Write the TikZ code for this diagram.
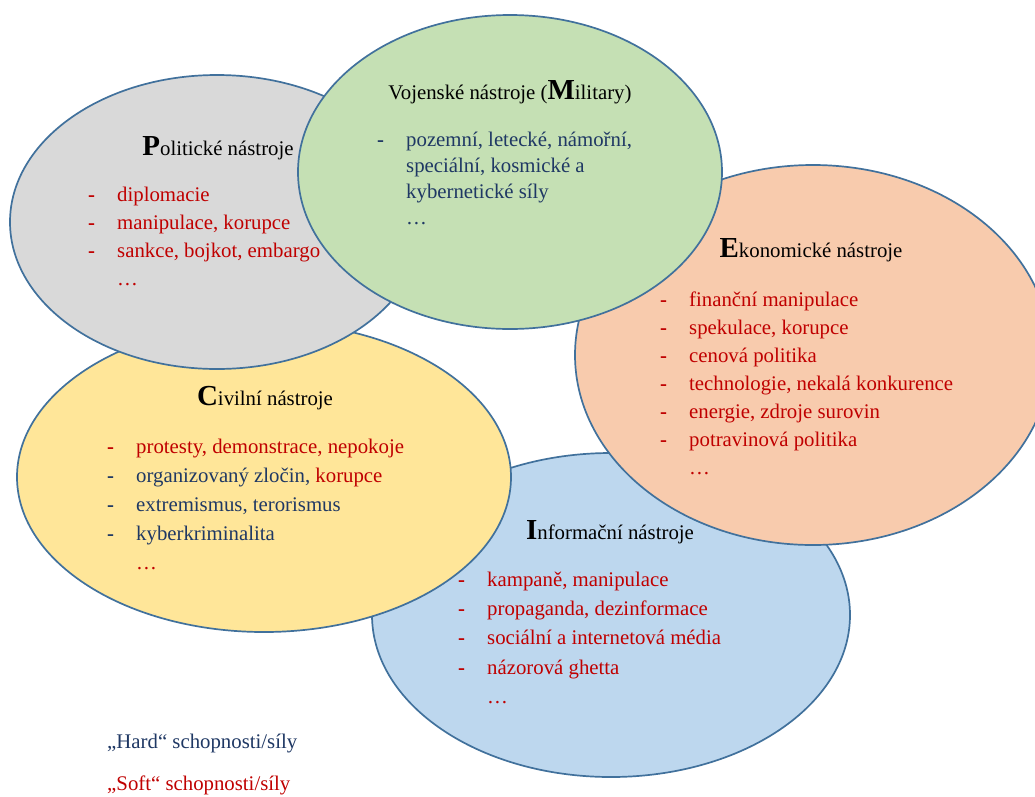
\documentclass[tikz,border=0pt]{standalone}
\usepackage{fontspec}
\setmainfont{Liberation Serif}
\usetikzlibrary{shapes.geometric}

\definecolor{rimBlue}{HTML}{41719C}
\definecolor{polFill}{HTML}{D9D9D9}
\definecolor{milFill}{HTML}{C5E0B4}
\definecolor{ecoFill}{HTML}{F8CBAD}
\definecolor{civFill}{HTML}{FFE699}
\definecolor{infFill}{HTML}{BDD7EE}
\definecolor{softRed}{HTML}{C00000}
\definecolor{hardNavy}{HTML}{1F3864}

\newcommand{\bigini}[1]{{\fontsize{29}{29}\selectfont\bfseries #1}}
\newcommand{\dsh}{\makebox[29pt][l]{\textbf{-}}}
\newcommand{\gap}{\hspace*{29pt}}

\begin{document}
\begin{tikzpicture}[
    x=1pt, y=-1pt,
    tool/.style={
        ellipse,
        draw=rimBlue,
        line width=1.7pt,
        inner sep=0pt
    },
    head/.style={
        anchor=base,
        inner sep=0pt,
        font=\fontsize{20.8}{28}\selectfont
    },
    list/.style={
        anchor=north west,
        align=left,
        inner sep=0pt
    }
]
\fill[white] (0,0) rectangle (1035,796);
\useasboundingbox (0,0) rectangle (1035,796);

% tool groups, back to front
\node[tool, fill=infFill, minimum width=478pt, minimum height=324pt] (inf) at (611,615) {};
\node[tool, fill=civFill, minimum width=494pt, minimum height=310pt] (civ) at (264,477) {};
\node[tool, fill=ecoFill, minimum width=476pt, minimum height=380pt] (eco) at (813,355) {};
\node[tool, fill=polFill, minimum width=414pt, minimum height=294pt] (pol) at (217,222) {};
\node[tool, fill=milFill, minimum width=424pt, minimum height=314pt] (mil) at (510,172) {};

% headings
\node[head] (polHead) at (218,155) {\bigini{P}olitické nástroje};
\node[head] (milHead) at (510,99) {Vojenské nástroje (\bigini{M}ilitary)};
\node[head] (ecoHead) at (811,257) {\bigini{E}konomické nástroje};
\node[head] (civHead) at (265,405) {\bigini{C}ivilní nástroje};
\node[head] (infHead) at (610,539) {\bigini{I}nformační nástroje};

% item lists
\node[list, text=softRed, font=\fontsize{20.8}{28}\selectfont] (polList) at (88,181.4)
    {\strut\dsh diplomacie\\ \dsh manipulace, korupce\\ \dsh sankce, bojkot, embargo\\ \gap …};
\node[list, text=hardNavy, font=\fontsize{20.8}{26}\selectfont] (milList) at (377,127.8)
    {\strut\dsh pozemní, letecké, námořní,\\ \gap speciální, kosmické a\\ \gap kybernetické síly\\ \gap …};
\node[list, text=softRed, font=\fontsize{20.8}{28}\selectfont] (ecoList) at (660,286.4)
    {\strut\dsh finanční manipulace\\ \dsh spekulace, korupce\\ \dsh cenová politika\\
     \dsh technologie, nekalá konkurence\\ \dsh energie, zdroje surovin\\
     \dsh potravinová politika\\ \gap …};
\node[list, text=hardNavy, font=\fontsize{20.8}{29}\selectfont] (civList) at (107,432.7)
    {\strut\textcolor{softRed}{\dsh protesty, demonstrace, nepokoje}\\
     \dsh organizovaný zločin, \textcolor{softRed}{korupce}\\
     \dsh extremismus, terorismus\\ \dsh kyberkriminalita\\ \gap\textcolor{softRed}{…}};
\node[list, text=softRed, font=\fontsize{20.8}{29.3}\selectfont] (infList) at (458,565.5)
    {\strut\dsh kampaně, manipulace\\ \dsh propaganda, dezinformace\\
     \dsh sociální a internetová média\\ \dsh názorová ghetta\\ \gap …};

% legend
\node[head, anchor=base west, text=hardNavy] (hardKey) at (107,748) {„Hard“ schopnosti/síly};
\node[head, anchor=base west, text=softRed] (softKey) at (107,790) {„Soft“ schopnosti/síly};
\end{tikzpicture}
\end{document}
